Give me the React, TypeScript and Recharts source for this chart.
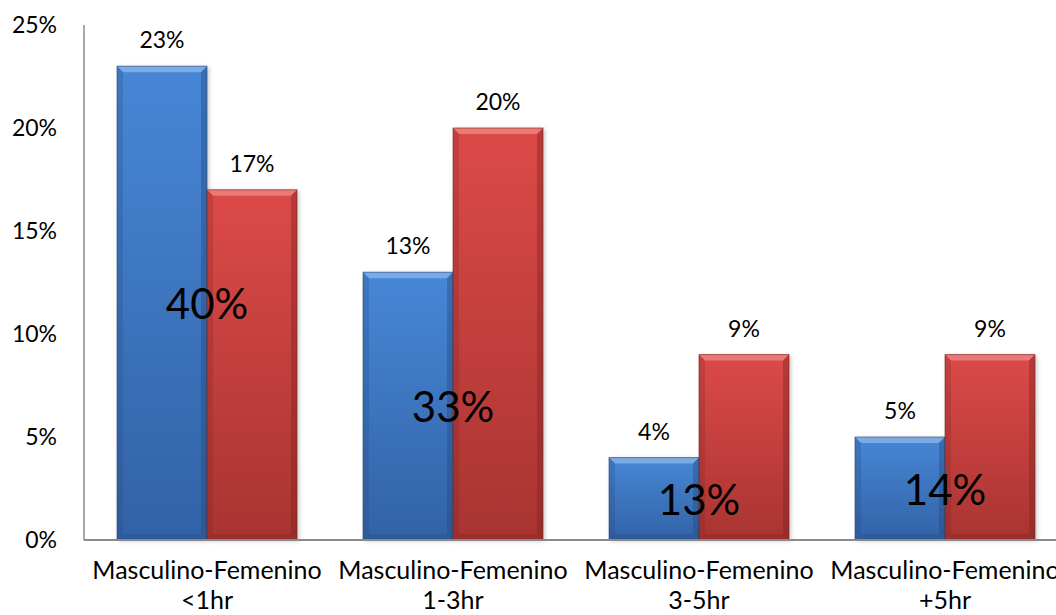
import { BarChart, Bar, XAxis, YAxis, LabelList } from "recharts";

// Tiempo de uso por grupo, en porcentaje
const groups = ["<1hr", "1-3hr", "3-5hr", "+5hr"];
const masculino = [23, 13, 4, 5];
const femenino = [17, 20, 9, 9];
const yTicks = [0, 5, 10, 15, 20, 25];
const groupPrefix = "Masculino-Femenino";

const data = groups.map((g, i) => ({
  name: g,
  masculino: masculino[i],
  femenino: femenino[i],
  total: masculino[i] + femenino[i],
}));

const FONT = "Lato, 'Open Sans', sans-serif";

const palette = {
  blue: { top: "#4787d6", bottom: "#3262a6", light: "#8db6ea", dark: "#24497d" },
  red: { top: "#dc4a48", bottom: "#a83431", light: "#f08a86", dark: "#7a2220" },
};

function bevelBar(kind: "blue" | "red") {
  const c = palette[kind];
  return (props: any) => {
    const { x, y, width: w, height: h } = props;
    if (!h || h <= 0) return null;
    const b = Math.min(6, h / 2);
    return (
      <g>
        <rect x={x + 2} y={y + 1} width={w} height={h} fill="rgba(0,0,0,0.22)" filter="url(#barShadow)" />
        <rect x={x} y={y} width={w} height={h} fill={`url(#grad-${kind})`} />
        <polygon
          points={`${x},${y} ${x + w},${y} ${x + w - b},${y + b} ${x + b},${y + b}`}
          fill={c.light}
          opacity={0.75}
        />
        <polygon
          points={`${x},${y} ${x + b},${y + b} ${x + b},${y + h - b} ${x},${y + h}`}
          fill={c.dark}
          opacity={0.25}
        />
        <polygon
          points={`${x + w},${y} ${x + w - b},${y + b} ${x + w - b},${y + h - b} ${x + w},${y + h}`}
          fill={c.dark}
          opacity={0.4}
        />
        <polygon
          points={`${x},${y + h} ${x + b},${y + h - b} ${x + w - b},${y + h - b} ${x + w},${y + h}`}
          fill={c.dark}
          opacity={0.3}
        />
        <rect x={x} y={y} width={w} height={h} fill="none" stroke={c.dark} strokeOpacity={0.6} strokeWidth={1} />
      </g>
    );
  };
}

const ValueLabel = (props: any) => {
  const { x, y, width, value } = props;
  return (
    <text
      x={x + width / 2}
      y={y - 27}
      textAnchor="middle"
      dominantBaseline="central"
      fontFamily={FONT}
      fontSize={23}
      fill="#000"
    >
      {`${value}%`}
    </text>
  );
};

// group total drawn over the pair, centred on the blue bar's midpoint
const TotalLabel = (props: any) => {
  const { x, y, width, height, index } = props;
  return (
    <text
      x={x + width}
      y={y + height / 2}
      textAnchor="middle"
      dominantBaseline="central"
      fontFamily={FONT}
      fontSize={42}
      fill="#000"
    >
      {`${data[index].total}%`}
    </text>
  );
};

const CategoryTick = (props: any) => {
  const { x, y, payload } = props;
  return (
    <text x={x} y={y} textAnchor="middle" fontFamily={FONT} fontSize={25} fill="#000">
      <tspan x={x} dy={31}>{groupPrefix}</tspan>
      <tspan x={x} dy={30}>{payload.value}</tspan>
    </text>
  );
};

export default function App() {
  return (
    <div
      style={{
        position: "fixed",
        left: 0,
        top: 0,
        width: 1056,
        height: 615,
        overflow: "hidden",
        background: "#fff",
      }}
    >
      <BarChart
        width={1072}
        height={615}
        data={data}
        margin={{ top: 25, right: 4, bottom: 0, left: 0 }}
        barCategoryGap={33}
        barGap={0}
      >
        <defs>
          <linearGradient id="grad-blue" x1="0" y1="0" x2="0" y2="1">
            <stop offset="0%" stopColor={palette.blue.top} />
            <stop offset="100%" stopColor={palette.blue.bottom} />
          </linearGradient>
          <linearGradient id="grad-red" x1="0" y1="0" x2="0" y2="1">
            <stop offset="0%" stopColor={palette.red.top} />
            <stop offset="100%" stopColor={palette.red.bottom} />
          </linearGradient>
          <filter id="barShadow" x="-10%" y="-10%" width="130%" height="130%">
            <feGaussianBlur stdDeviation="2" />
          </filter>
        </defs>
        <XAxis
          dataKey="name"
          axisLine={{ stroke: "#8a8a8a", strokeWidth: 2 }}
          tickLine={false}
          tick={<CategoryTick />}
          interval={0}
          height={75}
        />
        <YAxis
          domain={[0, 25]}
          ticks={yTicks}
          width={84}
          axisLine={{ stroke: "#8a8a8a", strokeWidth: 1.5 }}
          tickLine={false}
          tickSize={0}
          tickMargin={27}
          tickFormatter={(v) => `${v}%`}
          tick={{ fontFamily: FONT, fontSize: 23, fill: "#000" }}
        />
        <Bar dataKey="masculino" shape={bevelBar("blue")} isAnimationActive={false}>
          <LabelList dataKey="masculino" content={<ValueLabel />} />
          <LabelList dataKey="total" content={<TotalLabel />} />
        </Bar>
        <Bar dataKey="femenino" shape={bevelBar("red")} isAnimationActive={false}>
          <LabelList dataKey="femenino" content={<ValueLabel />} />
        </Bar>
      </BarChart>
    </div>
  );
}
